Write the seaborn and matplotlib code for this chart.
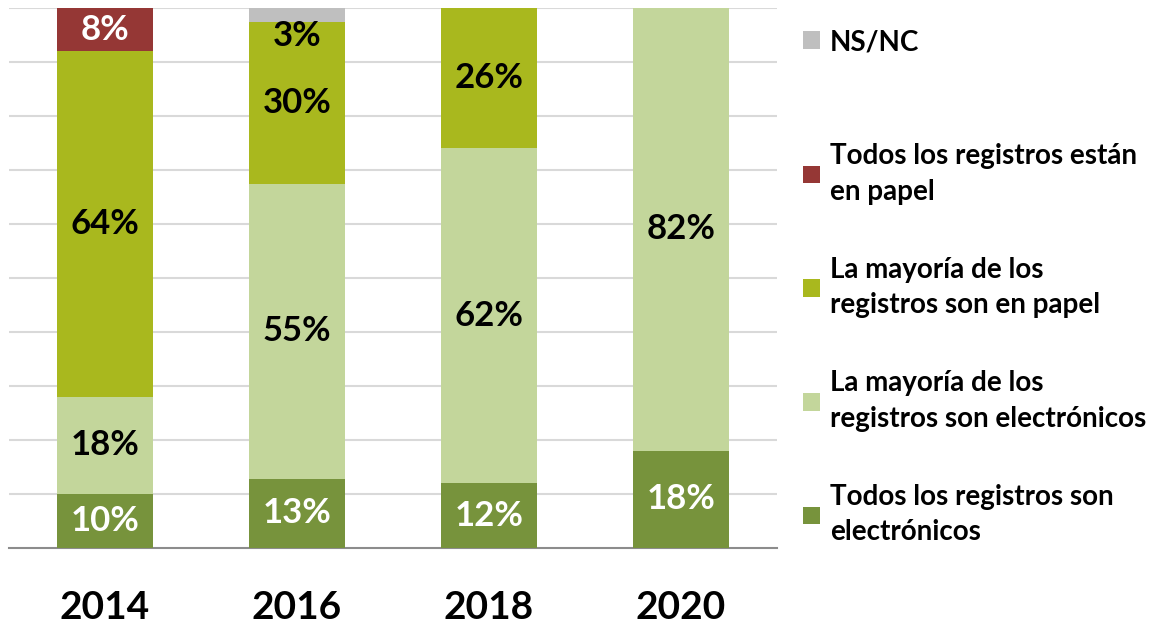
import pandas as pd
import seaborn as sns
import matplotlib.pyplot as plt
from matplotlib.patches import Patch

years = ['2014', '2016', '2018', '2020']

# shares per answer, bottom to top of each bar (percent)
todos_elec = [10, 12.8, 12, 18]
mayoria_elec = [18, 54.6, 62, 82]
mayoria_papel = [64, 30, 26, 0]
todos_papel = [8, 0, 0, 0]
ns_nc = [0, 2.6, 0, 0]

series_names = [
    'Todos los registros son\nelectrónicos',
    'La mayoría de los\nregistros son electrónicos',
    'La mayoría de los\nregistros son en papel',
    'Todos los registros están\nen papel',
    'NS/NC',
]
series_values = [todos_elec, mayoria_elec, mayoria_papel, todos_papel, ns_nc]
series_colors = ['#77933C', '#C3D69B', '#A9B81E', '#953735', '#BFBFBF']
label_colors = ['white', 'black', 'black', 'white', 'black']

sns.set_style('white')
plt.rcParams['font.family'] = ['Lato', 'DejaVu Sans']
plt.rcParams['font.weight'] = 'bold'
plt.rcParams['text.color'] = 'black'
plt.rcParams['xtick.color'] = 'black'

fig = plt.figure(figsize=(11.68, 6.26), dpi=100)
ax = fig.add_axes([9 / 1168, 1 - 548 / 626, 768 / 1168, 540 / 626])

bottom = [0, 0, 0, 0]
for name, vals, color, lcol in zip(series_names, series_values, series_colors, label_colors):
    df = pd.DataFrame({'year': years, 'value': vals})
    sns.barplot(data=df, x='year', y='value', color=color, width=0.5,
                bottom=bottom, ax=ax, saturation=1, linewidth=0, zorder=3)
    for i, v in enumerate(vals):
        if v <= 0:
            continue
        if name == 'NS/NC':
            # small slice: label sits just under it
            y = bottom[i] - 2.6
        else:
            y = bottom[i] + v / 2
        ax.text(i, y, f'{v:.0f}%', ha='center', va='center',
                fontsize=25, fontweight='bold', color=lcol, zorder=4)
    bottom = [b + v for b, v in zip(bottom, vals)]

ax.set_ylim(0, 100)
ax.set_xlim(-0.5, 3.5)
ax.set_yticks(range(10, 101, 10))
ax.set_yticklabels([])
ax.tick_params(axis='y', length=0)
ax.grid(axis='y', color='#D9D9D9', lw=1.5, zorder=0)
ax.set_xlabel('')
ax.set_ylabel('')

# boundary ticks between categories, labels on minor ticks at centres
ax.set_xticks([-0.5, 0.5, 1.5, 2.5, 3.5])
ax.set_xticklabels([])
ax.tick_params(axis='x', which='major', length=9, width=1.5, color='#8C8C8C', direction='out')
ax.set_xticks(range(4), minor=True)
ax.set_xticklabels(years, minor=True, fontsize=28, fontweight='bold', color='black')
ax.tick_params(axis='x', which='minor', length=0, pad=30)

for s in ['top', 'right', 'left']:
    ax.spines[s].set_visible(False)
ax.spines['bottom'].set_color('#8C8C8C')
ax.spines['bottom'].set_linewidth(1.5)

# legend in two parts: NS/NC alone at the top, the rest below
handles = [Patch(facecolor=c, edgecolor='none') for c in series_colors][::-1]
leg_labels = series_names[::-1]
leg_kw = dict(frameon=False, borderpad=0, borderaxespad=0,
              prop={'size': 20, 'weight': 'bold'}, handlelength=0.6,
              handleheight=0.6, handletextpad=0.36, labelspacing=1.87)

leg_top = fig.legend(handles[:1], leg_labels[:1], loc='center left',
                     bbox_to_anchor=(803 / 1168, 1 - 42 / 626), **leg_kw)
leg_rest = fig.legend(handles[1:], leg_labels[1:], loc='upper left',
                      bbox_to_anchor=(803 / 1168, 1 - 143 / 626), **leg_kw)
for leg in (leg_top, leg_rest):
    for t in leg.get_texts():
        t.set_linespacing(1.46)
        t.set_color('black')

fig.savefig('out.png', dpi=100)
